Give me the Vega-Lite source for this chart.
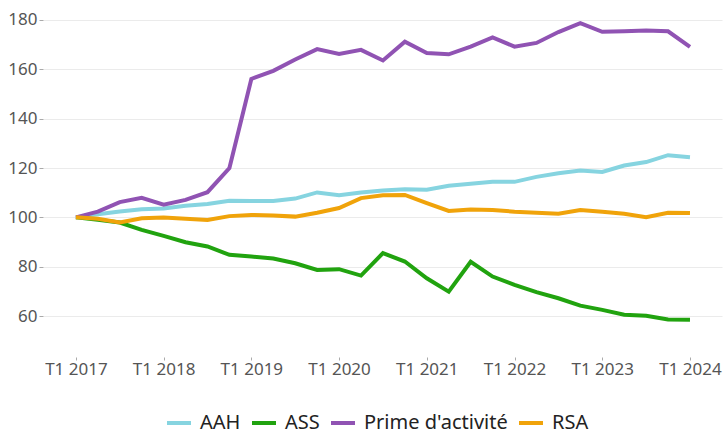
{
  "$schema": "https://vega.github.io/schema/vega-lite/v6.json",
  "width": 679,
  "height": 357,
  "autosize": {"type": "none"},
  "padding": {"left": 43, "top": 0, "right": 1, "bottom": 79},
  "config": {
    "view": {"stroke": null},
    "font": "Noto Sans",
    "axis": {"labelFont": "Noto Sans", "labelColor": "#555555", "labelFontSize": 17, "tickColor": "#aaaaaa", "domain": false}
  },
  "data": {"values": [
    {"i":0,"s":"AAH","v":100},{"i":1,"s":"AAH","v":101.3},{"i":2,"s":"AAH","v":102.4},{"i":3,"s":"AAH","v":103.3},
    {"i":4,"s":"AAH","v":103.6},{"i":5,"s":"AAH","v":104.7},{"i":6,"s":"AAH","v":105.4},{"i":7,"s":"AAH","v":106.7},
    {"i":8,"s":"AAH","v":106.6},{"i":9,"s":"AAH","v":106.6},{"i":10,"s":"AAH","v":107.6},{"i":11,"s":"AAH","v":110.1},
    {"i":12,"s":"AAH","v":109.0},{"i":13,"s":"AAH","v":110.1},{"i":14,"s":"AAH","v":110.9},{"i":15,"s":"AAH","v":111.4},
    {"i":16,"s":"AAH","v":111.2},{"i":17,"s":"AAH","v":112.8},{"i":18,"s":"AAH","v":113.6},{"i":19,"s":"AAH","v":114.4},
    {"i":20,"s":"AAH","v":114.4},{"i":21,"s":"AAH","v":116.4},{"i":22,"s":"AAH","v":117.9},{"i":23,"s":"AAH","v":119.0},
    {"i":24,"s":"AAH","v":118.4},{"i":25,"s":"AAH","v":121.0},{"i":26,"s":"AAH","v":122.4},{"i":27,"s":"AAH","v":125.2},
    {"i":28,"s":"AAH","v":124.4},
    {"i":0,"s":"ASS","v":100},{"i":1,"s":"ASS","v":99.0},{"i":2,"s":"ASS","v":97.9},{"i":3,"s":"ASS","v":94.9},
    {"i":4,"s":"ASS","v":92.5},{"i":5,"s":"ASS","v":89.9},{"i":6,"s":"ASS","v":88.2},{"i":7,"s":"ASS","v":84.8},
    {"i":8,"s":"ASS","v":84.1},{"i":9,"s":"ASS","v":83.3},{"i":10,"s":"ASS","v":81.4},{"i":11,"s":"ASS","v":78.7},
    {"i":12,"s":"ASS","v":79.0},{"i":13,"s":"ASS","v":76.4},{"i":14,"s":"ASS","v":85.5},{"i":15,"s":"ASS","v":82.1},
    {"i":16,"s":"ASS","v":75.3},{"i":17,"s":"ASS","v":69.9},{"i":18,"s":"ASS","v":82.0},{"i":19,"s":"ASS","v":76.0},
    {"i":20,"s":"ASS","v":72.6},{"i":21,"s":"ASS","v":69.7},{"i":22,"s":"ASS","v":67.2},{"i":23,"s":"ASS","v":64.2},
    {"i":24,"s":"ASS","v":62.5},{"i":25,"s":"ASS","v":60.5},{"i":26,"s":"ASS","v":60.1},{"i":27,"s":"ASS","v":58.6},
    {"i":28,"s":"ASS","v":58.5},
    {"i":0,"s":"Prime d'activité","v":100},{"i":1,"s":"Prime d'activité","v":102.3},{"i":2,"s":"Prime d'activité","v":106.2},{"i":3,"s":"Prime d'activité","v":107.9},
    {"i":4,"s":"Prime d'activité","v":105.1},{"i":5,"s":"Prime d'activité","v":107.1},{"i":6,"s":"Prime d'activité","v":110.2},{"i":7,"s":"Prime d'activité","v":120.0},
    {"i":8,"s":"Prime d'activité","v":156.1},{"i":9,"s":"Prime d'activité","v":159.4},{"i":10,"s":"Prime d'activité","v":164.0},{"i":11,"s":"Prime d'activité","v":168.2},
    {"i":12,"s":"Prime d'activité","v":166.2},{"i":13,"s":"Prime d'activité","v":167.9},{"i":14,"s":"Prime d'activité","v":163.6},{"i":15,"s":"Prime d'activité","v":171.2},
    {"i":16,"s":"Prime d'activité","v":166.6},{"i":17,"s":"Prime d'activité","v":166.1},{"i":18,"s":"Prime d'activité","v":169.2},{"i":19,"s":"Prime d'activité","v":172.9},
    {"i":20,"s":"Prime d'activité","v":169.2},{"i":21,"s":"Prime d'activité","v":170.7},{"i":22,"s":"Prime d'activité","v":175.1},{"i":23,"s":"Prime d'activité","v":178.7},
    {"i":24,"s":"Prime d'activité","v":175.2},{"i":25,"s":"Prime d'activité","v":175.4},{"i":26,"s":"Prime d'activité","v":175.7},{"i":27,"s":"Prime d'activité","v":175.4},
    {"i":28,"s":"Prime d'activité","v":169.1},
    {"i":0,"s":"RSA","v":100},{"i":1,"s":"RSA","v":99.4},{"i":2,"s":"RSA","v":97.9},{"i":3,"s":"RSA","v":99.6},
    {"i":4,"s":"RSA","v":99.9},{"i":5,"s":"RSA","v":99.4},{"i":6,"s":"RSA","v":98.9},{"i":7,"s":"RSA","v":100.5},
    {"i":8,"s":"RSA","v":101.0},{"i":9,"s":"RSA","v":100.8},{"i":10,"s":"RSA","v":100.3},{"i":11,"s":"RSA","v":101.9},
    {"i":12,"s":"RSA","v":103.8},{"i":13,"s":"RSA","v":107.8},{"i":14,"s":"RSA","v":109.0},{"i":15,"s":"RSA","v":109.1},
    {"i":16,"s":"RSA","v":105.8},{"i":17,"s":"RSA","v":102.6},{"i":18,"s":"RSA","v":103.2},{"i":19,"s":"RSA","v":103.0},
    {"i":20,"s":"RSA","v":102.3},{"i":21,"s":"RSA","v":101.9},{"i":22,"s":"RSA","v":101.5},{"i":23,"s":"RSA","v":103.0},
    {"i":24,"s":"RSA","v":102.3},{"i":25,"s":"RSA","v":101.5},{"i":26,"s":"RSA","v":100.1},{"i":27,"s":"RSA","v":101.9},
    {"i":28,"s":"RSA","v":101.8}
  ]},
  "mark": {"type": "line", "strokeWidth": 4, "strokeJoin": "miter", "strokeCap": "butt"},
  "encoding": {
    "x": {
      "field": "i", "type": "quantitative",
      "scale": {"domain": [-1.5, 29.46], "nice": false, "zero": false},
      "axis": {
        "title": null, "labelAngle": 0, "grid": false, "ticks": true, "tickSize": 3, "labelPadding": 1,
        "values": [0, 4, 8, 12, 16, 20, 24, 28],
        "labelExpr": "'T1 ' + (2017 + datum.value / 4)",
        "labelFlush": false, "labelOverlap": false
      }
    },
    "y": {
      "field": "v", "type": "quantitative",
      "scale": {"domain": [43.4, 188.1], "nice": false, "zero": false},
      "axis": {"title": null, "values": [60,80,100,120,140,160,180], "gridColor": "#ebebeb", "gridWidth": 1.2, "tickSize": 4, "labelPadding": 2}
    },
    "color": {
      "field": "s", "type": "nominal",
      "scale": {"domain": ["AAH","ASS","Prime d'activité","RSA"], "range": ["#86d4e0","#21a30f","#9053b3","#f0a30a"]},
      "legend": {
        "orient": "none", "legendX": 122, "legendY": 409,
        "direction": "horizontal", "title": null, "symbolType": "stroke", "symbolStrokeWidth": 4, "symbolSize": 576,
        "labelFontSize": 20, "labelColor": "#222222", "labelFont": "Noto Sans", "labelOffset": 7, "columnPadding": 3
      }
    }
  }
}
